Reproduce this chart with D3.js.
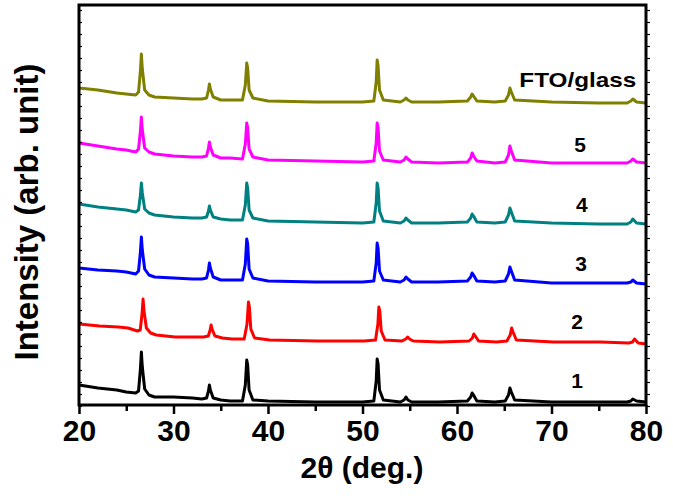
<!DOCTYPE html>
<html>
<head>
<meta charset="utf-8">
<script src="https://cdn.jsdelivr.net/npm/d3@7"></script>
<style>
  html, body { margin: 0; padding: 0; background: #fff; }
  svg { display: block; }
  text { font-family: "Liberation Sans", Arial, sans-serif; font-weight: bold; fill: #000; }
</style>
</head>
<body>
<svg id="chart" width="673" height="499"></svg>
<script>
// 2θ sampling points (deg.)
const theta = [20, 22, 24, 25, 26, 26.3, 26.5, 26.6, 26.7, 26.95, 27.4, 28, 30, 32, 33,
  33.5, 33.7, 33.8, 33.9, 34.2, 35, 36, 37.3, 37.6, 37.75, 37.85, 38.0, 38.4, 40, 45, 50,
  51.2, 51.45, 51.55, 51.65, 51.8, 52.2, 54, 54.4, 54.6, 54.8, 55.2, 58,
  61.1, 61.45, 61.6, 61.75, 62.1, 64, 65.1, 65.45, 65.6, 65.75, 66.1, 70, 75, 78, 78.4, 78.6, 79, 80];

// intensities (arb. unit, offset-stacked as in the figure)
const sFTO = [318, 316, 313, 312, 311, 314, 335, 352, 337, 316, 311, 309, 308, 307, 307,
  308, 316, 322, 317, 309, 306, 306, 306, 321, 343, 338, 316, 308, 305, 304, 304,
  305, 324, 346, 340, 316, 306, 304, 306, 308, 306, 304, 304,
  305, 309, 312, 310, 305, 304, 305, 311, 318, 314, 306, 304, 303, 303, 305, 307, 304, 303];
const s5 = [263, 260, 257, 256, 254, 257, 275, 289, 276, 258, 254, 252, 250, 249, 249,
  250, 258, 264, 259, 251, 248, 248, 247, 262, 283, 278, 257, 249, 246, 245, 244,
  245, 263, 283, 278, 255, 246, 244, 246, 249, 247, 244, 243,
  244, 248, 253, 250, 245, 243, 244, 251, 260, 255, 246, 243, 243, 243, 245, 247, 244, 243];
const s4 = [202, 199, 197, 196, 194, 196, 211, 223, 213, 197, 193, 191, 189, 188, 188,
  189, 195, 200, 196, 189, 187, 186, 186, 201, 223, 218, 196, 188, 185, 184, 183,
  184, 203, 223, 218, 195, 185, 183, 185, 188, 186, 183, 183,
  184, 188, 192, 190, 184, 183, 184, 191, 198, 194, 185, 183, 182, 182, 184, 187, 183, 182];
const s3 = [138, 136, 135, 134, 132, 135, 154, 169, 156, 137, 131, 129, 128, 127, 127,
  128, 136, 143, 138, 129, 126, 126, 126, 142, 167, 162, 137, 128, 125, 124, 124,
  125, 143, 163, 158, 135, 126, 124, 126, 129, 127, 124, 124,
  125, 129, 133, 131, 125, 124, 125, 132, 139, 135, 126, 123, 123, 123, 124, 126, 123, 122];
const s2 = [82, 80, 79, 78, 75, 76, 93, 107, 95, 78, 73, 71, 69, 69, 69,
  70, 76, 81, 77, 70, 68, 67, 67, 82, 104, 99, 77, 68, 66, 65, 65,
  66, 82, 99, 95, 75, 66, 65, 67, 69, 67, 65, 64,
  65, 68, 72, 70, 65, 64, 65, 71, 78, 74, 66, 64, 64, 63, 64, 67, 63, 62];
const s1 = [21, 18, 16, 14, 13, 15, 37, 54, 39, 17, 11, 9, 9, 8, 7,
  8, 15, 21, 16, 8, 6, 5, 5, 21, 46, 41, 16, 6, 5, 4, 4,
  5, 25, 47, 42, 16, 6, 4, 6, 9, 6, 4, 4,
  5, 9, 13, 11, 5, 4, 5, 11, 18, 14, 6, 4, 4, 4, 5, 7, 5, 4];

const seriesNames = ["FTO/glass", "5", "4", "3", "2", "1"];
const seriesValues = [sFTO, s5, s4, s3, s2, s1];
const seriesShift = [0, 0, 0, 0, 0.18, 0];   // peak shift of sample 2 (deg.)
const seriesColors = ["#808000", "#ff00ff", "#008080", "#0000ff", "#ff0000", "#000000"];
const labelTheta = [66.6, 72.4, 72.6, 72.5, 72.1, 72.1];
const labelValue = [319, 254, 194, 135, 77, 18];

const xTicksMajor = [20, 30, 40, 50, 60, 70, 80];
const xTicksMinor = [25, 35, 45, 55, 65, 75];
const xLabel = "2θ (deg.)";
const yLabel = "Intensity (arb. unit)";

const svg = d3.select("#chart");
const L = 79, R = 646, T = 5, B = 405;
const x = d3.scaleLinear().domain([20, 80]).range([L, R]);
const y = d3.scaleLinear().domain([0, 400]).range([B + 1, T + 1]);

// traces
const line = d3.line().x(d => x(d[0])).y(d => y(d[1])).curve(d3.curveLinear);
const gTraces = svg.append("g");
seriesValues.forEach((vals, i) => {
  const pts = theta.map((t, k) => [t + (k > 0 && k < theta.length - 1 ? seriesShift[i] : 0), vals[k]]);
  gTraces.append("path")
    .attr("d", line(pts))
    .attr("fill", "none")
    .attr("stroke", seriesColors[i])
    .attr("stroke-width", 3)
    .attr("stroke-linejoin", "round");
});

// frame
svg.append("rect").attr("x", L).attr("y", T).attr("width", R - L).attr("height", B - T)
  .attr("fill", "none").attr("stroke", "#000").attr("stroke-width", 3);

// bottom axis
const xAxis = d3.axisBottom(x).tickValues(xTicksMajor).tickSize(9).tickPadding(4).tickFormat(d3.format("d"));
const gx = svg.append("g").attr("transform", `translate(0,${B})`).call(xAxis);
gx.select(".domain").remove();
gx.selectAll(".tick line").attr("stroke", "#000").attr("stroke-width", 2.5);
gx.selectAll(".tick text").style("font-size", "30px").style("font-family", "Liberation Sans, Arial, sans-serif")
  .style("font-weight", "bold").attr("fill", "#000").attr("dy", "0.78em");
const xAxisMinor = d3.axisBottom(x).tickValues(xTicksMinor).tickSize(6).tickFormat("");
const gxm = svg.append("g").attr("transform", `translate(0,${B})`).call(xAxisMinor);
gxm.select(".domain").remove();
gxm.selectAll(".tick line").attr("stroke", "#000").attr("stroke-width", 2.5);

// y minor ticks (left inward, right outward)
const yTickVals = d3.range(0, 401, 12);
const yAxisL = d3.axisRight(y).tickValues(yTickVals).tickSize(3).tickFormat("");
const gyl = svg.append("g").attr("transform", `translate(${L},0)`).call(yAxisL);
gyl.select(".domain").remove();
gyl.selectAll(".tick line").attr("stroke", "#000").attr("stroke-width", 1.2);
const yAxisR = d3.axisRight(y).tickValues(yTickVals).tickSize(4).tickFormat("");
const gyr = svg.append("g").attr("transform", `translate(${R},0)`).call(yAxisR);
gyr.select(".domain").remove();
gyr.selectAll(".tick line").attr("stroke", "#000").attr("stroke-width", 1.2);

// series labels
seriesNames.forEach((n, i) => {
  const t = svg.append("text")
    .attr("x", x(labelTheta[i])).attr("y", y(labelValue[i]))
    .style("font-size", "21px")
    .text(n);
  if (i === 0) t.attr("textLength", 117).attr("lengthAdjust", "spacingAndGlyphs");
});

// axis titles
svg.append("text").attr("x", 362).attr("y", 478).attr("text-anchor", "middle")
  .style("font-size", "30px").text(xLabel);
svg.append("text").attr("transform", "translate(38,212) rotate(-90)").attr("text-anchor", "middle")
  .style("font-size", "33px").text(yLabel);
</script>
</body>
</html>
